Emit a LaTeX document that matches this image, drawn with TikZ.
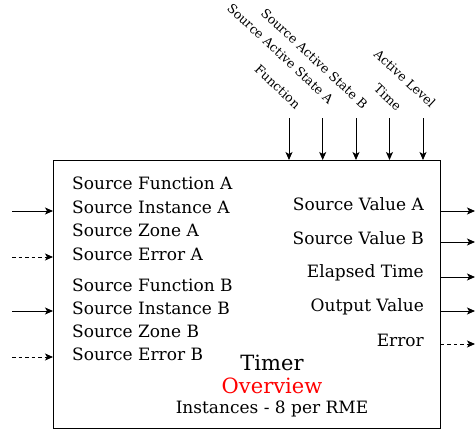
\documentclass[tikz,border=0pt]{standalone}
\usepackage{fontspec}
\setmainfont{DejaVu Serif}
\usetikzlibrary{arrows.meta}

\begin{document}
\begin{tikzpicture}[
    x=1pt, y=-1pt,
    block/.style={rectangle, draw, line width=0.8pt, minimum width=387pt, minimum height=268pt, anchor=north west, inner sep=0pt},
    port/.style={inner sep=0pt, text height=0.73em, text depth=0pt, font=\fontsize{17}{20}\selectfont},
    inlabel/.style={port, anchor=west},
    outlabel/.style={port, anchor=east},
    toplabel/.style={inner sep=0pt, text height=0.73em, text depth=0pt, anchor=east, rotate=-43, font=\fontsize{12.6}{15}\selectfont},
    title/.style={inner sep=0pt, text height=0.73em, text depth=0pt, font=\fontsize{21}{24}\selectfont},
    arrow/.style={-{Stealth[length=8pt,width=7pt,inset=2pt]}, line width=0.9pt},
    darrow/.style={arrow, dash pattern=on 3.5pt off 3pt}
]
    \useasboundingbox (0,0) rectangle (475,429);

    % Block
    \node[block] (timer) at (53,160) {};

    % Input labels
    \node[inlabel] (sfa) at (72,186) {Source Function A};
    \node[inlabel] (sia) at (72,210) {Source Instance A};
    \node[inlabel] (sza) at (72,233) {Source Zone A};
    \node[inlabel] (sea) at (72,257) {Source Error A};
    \node[inlabel] (sfb) at (72,288) {Source Function B};
    \node[inlabel] (sib) at (72,311) {Source Instance B};
    \node[inlabel] (szb) at (72,334) {Source Zone B};
    \node[inlabel] (seb) at (72,357) {Source Error B};

    % Output labels
    \node[outlabel] (sva) at (424,207) {Source Value A};
    \node[outlabel] (svb) at (424,241) {Source Value B};
    \node[outlabel] (et) at (424,274) {Elapsed Time};
    \node[outlabel] (ov) at (424,308) {Output Value};
    \node[outlabel] (err) at (424,343) {Error};

    % Title
    \node[title] (name) at (272,367) {Timer};
    \node[title, text=red] (sub) at (272,390) {Overview};
    \node[port] (inst) at (272,410) {Instances - 8 per RME};

    % Top labels
    \node[toplabel] (lfn) at (298,107) {Function};
    \node[toplabel] (lsa) at (331,102) {Source Active State A};
    \node[toplabel] (lsb) at (365,107) {Source Active State B};
    \node[toplabel] (ltm) at (399,109) {Time};
    \node[toplabel] (lal) at (433,106) {Active Level};

    % Arrow ends
    \coordinate (infn) at (289,118);
    \coordinate (insa) at (322.7,118);
    \coordinate (insb) at (356,118);
    \coordinate (intm) at (389.5,118);
    \coordinate (inal) at (423,118);
    \coordinate (ina) at (12,211);
    \coordinate (inea) at (12,257);
    \coordinate (inb) at (12,311);
    \coordinate (ineb) at (12,357);
    \coordinate (outa) at (475,211);
    \coordinate (outb) at (475,242);
    \coordinate (outt) at (475,277);
    \coordinate (outv) at (475,311);
    \coordinate (oute) at (475,344);

    % Arrows
    \draw[arrow] (infn) -- (infn |- timer.north);
    \draw[arrow] (insa) -- (insa |- timer.north);
    \draw[arrow] (insb) -- (insb |- timer.north);
    \draw[arrow] (intm) -- (intm |- timer.north);
    \draw[arrow] (inal) -- (inal |- timer.north);
    \draw[arrow] (ina) -- (ina -| timer.west);
    \draw[darrow] (inea) -- (inea -| timer.west);
    \draw[arrow] (inb) -- (inb -| timer.west);
    \draw[darrow] (ineb) -- (ineb -| timer.west);
    \draw[arrow] (outa -| timer.east) -- (outa);
    \draw[arrow] (outb -| timer.east) -- (outb);
    \draw[arrow] (outt -| timer.east) -- (outt);
    \draw[arrow] (outv -| timer.east) -- (outv);
    \draw[darrow] (oute -| timer.east) -- (oute);
\end{tikzpicture}
\end{document}
